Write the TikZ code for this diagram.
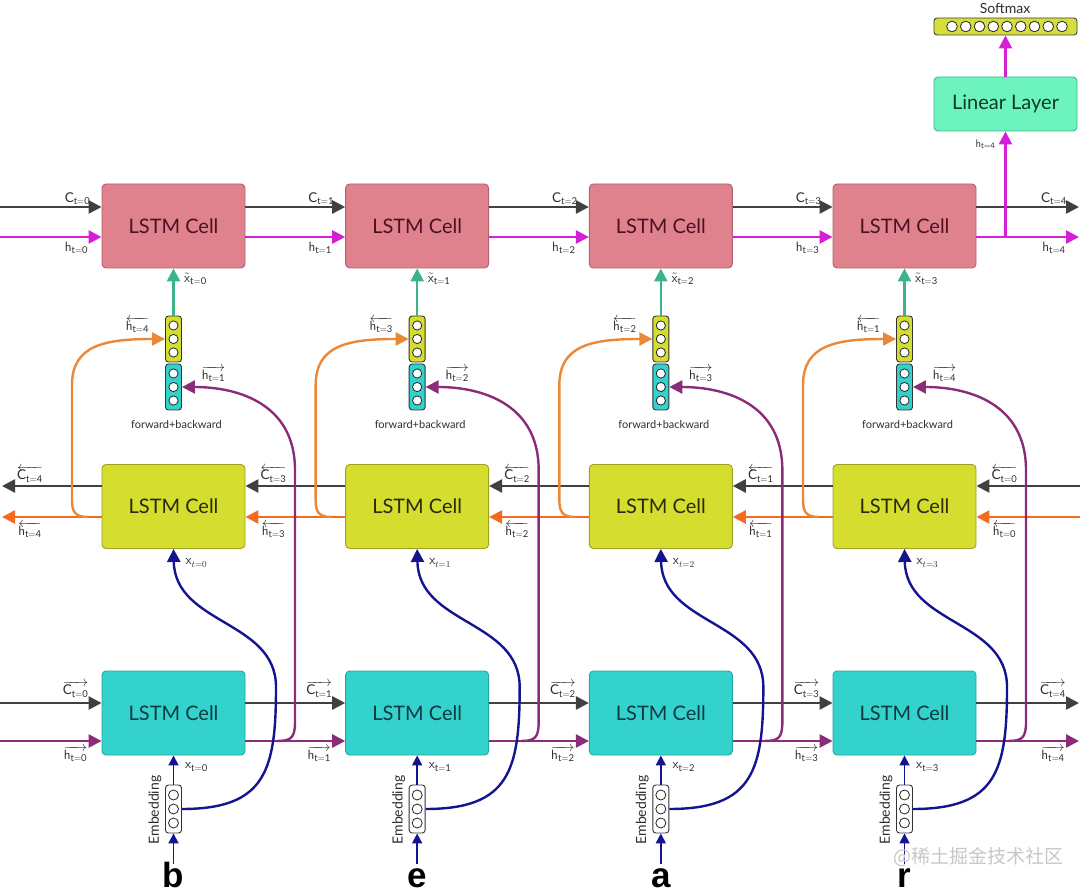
\documentclass[tikz,border=0pt]{standalone}
\usepackage{fontspec}
\setmainfont{Lato}
\newfontfamily\cjkfont{Noto Sans CJK SC}
\newfontfamily\letterfont{Liberation Sans}
\usetikzlibrary{arrows.meta,calc}
\definecolor{pinkF}{HTML}{E0828E}
\definecolor{pinkD}{HTML}{B5606C}
\definecolor{pinkT}{HTML}{4A1220}
\definecolor{yelF}{HTML}{D5DD2E}
\definecolor{yelD}{HTML}{9CA222}
\definecolor{yelT}{HTML}{2A2A0E}
\definecolor{cyaF}{HTML}{33D2CC}
\definecolor{cyaD}{HTML}{22A8A2}
\definecolor{cyaT}{HTML}{0E3A42}
\definecolor{linF}{HTML}{6DF4BE}
\definecolor{linD}{HTML}{3FB584}
\definecolor{linT}{HTML}{0E3A2A}
\definecolor{smxF}{HTML}{D6DE3A}
\definecolor{darkL}{HTML}{404040}
\definecolor{magL}{HTML}{D41ED8}
\definecolor{purL}{HTML}{8A2C78}
\definecolor{ornL}{HTML}{F26B1F}
\definecolor{ornC}{HTML}{EA8838}
\definecolor{navL}{HTML}{141490}
\definecolor{grnL}{HTML}{3DB38A}
\definecolor{labT}{HTML}{2E2E2E}
\begin{document}
\begin{tikzpicture}[x=1pt,y=-1pt,
  cellbox/.style={draw,rounded corners=4pt,minimum width=143pt,minimum height=84pt,line width=0.9pt,inner sep=0pt,font=\fontsize{20}{24}\selectfont},
  topcell/.style={cellbox,fill=pinkF,draw=pinkD,text=pinkT},
  midcell/.style={cellbox,fill=yelF,draw=yelD,text=yelT},
  botcell/.style={cellbox,fill=cyaF,draw=cyaD,text=cyaT},
  vecbox/.style={draw=black!80,line width=0.9pt,rounded corners=3pt,minimum width=16pt,minimum height=46pt,inner sep=0pt},
  dot/.style={draw=black!85,line width=0.8pt,fill=white},
  bigtip/.style={-{Triangle[length=13pt,width=13pt]}},
  smalltip/.style={-{Triangle[length=10pt,width=10pt]}},
  cflow/.style={bigtip,draw=darkL,line width=2.6pt},
  hflow/.style={bigtip,draw=magL,line width=2.6pt},
  oflow/.style={bigtip,draw=ornL,line width=2.6pt},
  pflow/.style={bigtip,draw=purL,line width=2.6pt},
  gflow/.style={bigtip,draw=grnL,line width=2.6pt},
  ocurve/.style={bigtip,draw=ornC,line width=2.4pt},
  pcurve/.style={bigtip,draw=purL,line width=2.4pt},
  ncurve/.style={bigtip,draw=navL,line width=2.4pt},
  eflow/.style={smalltip,draw=navL,line width=1.8pt},
  lab/.style={font=\fontsize{13.5}{15}\selectfont,text=labT,inner sep=0pt},
]
\useasboundingbox (0,0) rectangle (1080,893);

% ---------- nodes ----------
\foreach \k in {0,...,3}{
  \pgfmathsetmacro{\X}{173.5+243.67*\k}
  \node[topcell] (t\k) at (\X,226) {LSTM Cell};
  \node[midcell] (m\k) at (\X,506.5) {LSTM Cell};
  \node[botcell] (b\k) at (\X,713) {LSTM Cell};
  \node[vecbox,fill=yelF] (cy\k) at (\X,339) {};
  \node[vecbox,fill=cyaF] (cc\k) at (\X,387) {};
  \node[vecbox,fill=white,minimum height=48pt] (e\k) at (\X,809) {};
  \foreach \dy in {-13.5,0,13.5}{
    \draw[dot] (\X,339+\dy) circle[radius=4.6pt];
    \draw[dot] (\X,387+\dy) circle[radius=4.6pt];
  }
  \foreach \dy in {-14,0,14}{
    \draw[dot] (\X,809+\dy) circle[radius=5pt];
  }
}

\node[cellbox,fill=linF,draw=linD,text=linT,minimum height=54pt] (L) at (1005.5,104) {Linear Layer};
\node[draw=black!75,line width=0.9pt,fill=smxF,rounded corners=3pt,minimum width=143pt,minimum height=17pt,inner sep=0pt] (S) at (1005.5,26.5) {};
\foreach \j in {0,...,8}{
  \draw[dot] ({952+13.75*\j},26.5) circle[radius=5.3pt];
}
\node[font=\fontsize{14}{16}\selectfont,text=labT,inner sep=0pt] (smx) at (1005,8) {Softmax};

% ---------- top row ----------
\coordinate (tlc) at (0,207);
\coordinate (tlh) at (0,237);
\coordinate (trc) at (1079,207);
\coordinate (trh) at (1079,237);
\draw[cflow] (tlc) -- ([yshift=19pt]t0.west) node[lab,pos=1,xshift=-24pt,yshift=8pt] (ltc0) {$\mathrm{C}_{\mathrm{t=0}}$};
\draw[hflow] (tlh) -- ([yshift=-11pt]t0.west) node[lab,pos=1,xshift=-25pt,yshift=-11pt] (lth0) {$\mathsf{h}_{\mathrm{t=0}}$};
\foreach \p/\n in {0/1,1/2,2/3}{
  \draw[cflow] ([yshift=19pt]t\p.east) -- ([yshift=19pt]t\n.west) node[lab,pos=1,xshift=-24pt,yshift=8pt] (ltc\n) {$\mathrm{C}_{\mathrm{t=\n}}$};
  \draw[hflow] ([yshift=-11pt]t\p.east) -- ([yshift=-11pt]t\n.west) node[lab,pos=1,xshift=-25pt,yshift=-11pt] (lth\n) {$\mathsf{h}_{\mathrm{t=\n}}$};
}
\draw[cflow] ([yshift=19pt]t3.east) -- (trc) node[lab,pos=1,xshift=-25pt,yshift=8pt] (ltc4) {$\mathrm{C}_{\mathrm{t=4}}$};
\draw[hflow] ([yshift=-11pt]t3.east) -- (trh) node[lab,pos=1,xshift=-25pt,yshift=-11pt] (lth4) {$\mathsf{h}_{\mathrm{t=4}}$};
\coordinate (hbr) at (1005.5,237);
\draw[hflow] (hbr) -- (L.south) node[lab,pos=0.88,xshift=-20pt] (lhL) {\fontsize{11}{12}\selectfont$\mathsf{h}_{\mathrm{t=4}}$};
\draw[hflow] (L.north) -- (S.south);

% ---------- middle row ----------
\coordinate (mrc) at (1080,486);
\coordinate (mro) at (1080,517);
\coordinate (mlc) at (2,486);
\coordinate (mlo) at (2,517);
\draw[cflow] (mrc) -- ([yshift=20.5pt]m3.east) node[lab,pos=1,xshift=28pt,yshift=12pt] (lmc3) {$\overleftarrow{\mathrm{C}_{\mathrm{t=0}}}$};
\draw[oflow] (mro) -- ([yshift=-10.5pt]m3.east) node[lab,pos=1,xshift=28pt,yshift=-13pt] (lmh3) {$\overleftarrow{\mathsf{h}_{\mathrm{t=0}}}$};
\foreach \p/\n/\i in {0/1/3,1/2/2,2/3/1}{
  \draw[cflow] ([yshift=20.5pt]m\n.west) -- ([yshift=20.5pt]m\p.east) node[lab,pos=1,xshift=28pt,yshift=12pt] (lmc\p) {$\overleftarrow{\mathrm{C}_{\mathrm{t=\i}}}$};
  \draw[oflow] ([yshift=-10.5pt]m\n.west) -- ([yshift=-10.5pt]m\p.east) node[lab,pos=1,xshift=28pt,yshift=-13pt] (lmh\p) {$\overleftarrow{\mathsf{h}_{\mathrm{t=\i}}}$};
}
\draw[cflow] ([yshift=20.5pt]m0.west) -- (mlc) node[lab,pos=1,xshift=28pt,yshift=12pt] (lmcL) {$\overleftarrow{\mathrm{C}_{\mathrm{t=4}}}$};
\draw[oflow] ([yshift=-10.5pt]m0.west) -- (mlo) node[lab,pos=1,xshift=28pt,yshift=-13pt] (lmhL) {$\overleftarrow{\mathsf{h}_{\mathrm{t=4}}}$};

% ---------- bottom row ----------
\coordinate (blc) at (0,703);
\coordinate (blh) at (0,741);
\coordinate (brc) at (1079,703);
\coordinate (brh) at (1079,741);
\draw[cflow] (blc) -- ([yshift=10pt]b0.west) node[lab,pos=1,xshift=-26pt,yshift=14pt] (lbc0) {$\overrightarrow{\mathrm{C}_{\mathrm{t=0}}}$};
\draw[pflow] (blh) -- ([yshift=-28pt]b0.west) node[lab,pos=1,xshift=-26pt,yshift=-13pt] (lbh0) {$\overrightarrow{\mathsf{h}_{\mathrm{t=0}}}$};
\foreach \p/\n in {0/1,1/2,2/3}{
  \draw[cflow] ([yshift=10pt]b\p.east) -- ([yshift=10pt]b\n.west) node[lab,pos=1,xshift=-26pt,yshift=14pt] (lbc\n) {$\overrightarrow{\mathrm{C}_{\mathrm{t=\n}}}$};
  \draw[pflow] ([yshift=-28pt]b\p.east) -- ([yshift=-28pt]b\n.west) node[lab,pos=1,xshift=-26pt,yshift=-13pt] (lbh\n) {$\overrightarrow{\mathsf{h}_{\mathrm{t=\n}}}$};
}
\draw[cflow] ([yshift=10pt]b3.east) -- (brc) node[lab,pos=1,xshift=-26pt,yshift=14pt] (lbc4) {$\overrightarrow{\mathrm{C}_{\mathrm{t=4}}}$};
\draw[pflow] ([yshift=-28pt]b3.east) -- (brh) node[lab,pos=1,xshift=-26pt,yshift=-13pt] (lbh4) {$\overrightarrow{\mathsf{h}_{\mathrm{t=4}}}$};

% ---------- per-column verticals and curves ----------
\foreach \k/\ch/\ib/\ifw in {0/b/4/1,1/e/3/2,2/a/2/3,3/r/1/4}{
  \pgfmathsetmacro{\X}{173.5+243.67*\k}
  \pgfmathsetmacro{\Xo}{243.67*\k}
  % green
  \draw[gflow] (cy\k.north) -- (t\k.south);
  \node[lab] (lxt\k) at ({\X+22},279) {$\tilde{\mathsf{x}}_{\mathrm{t=\k}}$};
  % concat labels
  \node[lab] (lyb\k) at ({\X-36},325) {$\overleftarrow{\mathsf{h}_{\mathrm{t=\ib}}}$};
  \node[lab] (lyf\k) at ({\X+40},374) {$\overrightarrow{\mathsf{h}_{\mathrm{t=\ifw}}}$};
  \node[font=\fontsize{11}{13}\selectfont,text=labT,inner sep=0pt] (fb\k) at ({\X+3},424) {forward+backward};
  % orange branch
  \coordinate (ob\k) at ({88+\Xo},517);
  \draw[ocurve] (ob\k) .. controls +(-14,0) and +(0,12) .. ({72+\Xo},499) -- ({72+\Xo},385) .. controls +(0,-40) and +(-60,0) .. (cy\k.west);
  % purple branch
  \coordinate (pb\k) at ({277+\Xo},741);
  \draw[pcurve] (pb\k) .. controls +(14,0) and +(0,16) .. ({295+\Xo},722) -- ({295+\Xo},470) .. controls +(0,-65) and +(58,0) .. (cc\k.east);
  % navy input curve
  \draw[ncurve] (e\k.east) .. controls +(84,0) and +(0,83) .. ({276+\Xo},687) .. controls +(0,-67) and +(1.5,76) .. (m\k.south);
  \node[lab] (lxm\k) at ({\X+23},563) {$\mathsf{x}_{t=\k}$};
  % embedding
  \coordinate (in\k) at (\X,864);
  \draw[eflow] (in\k) -- (e\k.south);
  \draw[eflow] (e\k.north) -- (b\k.south);
  \node[lab] (lxb\k) at ({\X+23},767) {$\mathsf{x}_{\mathrm{t=\k}}$};
  \node[rotate=90,font=\fontsize{14}{16}\selectfont,text=labT,inner sep=0pt] (emb\k) at ({\X-18.5},810) {Embedding};
  \node[font=\letterfont\bfseries\fontsize{35}{36}\selectfont,anchor=base,inner sep=0pt] (ch\k) at (\X,887) {\ch};
}

\node[font=\cjkfont\fontsize{19}{20}\selectfont,text=black!22,anchor=west,inner sep=0pt] (wm) at (893,857) {@稀土掘金技术社区};
\end{tikzpicture}
\end{document}
